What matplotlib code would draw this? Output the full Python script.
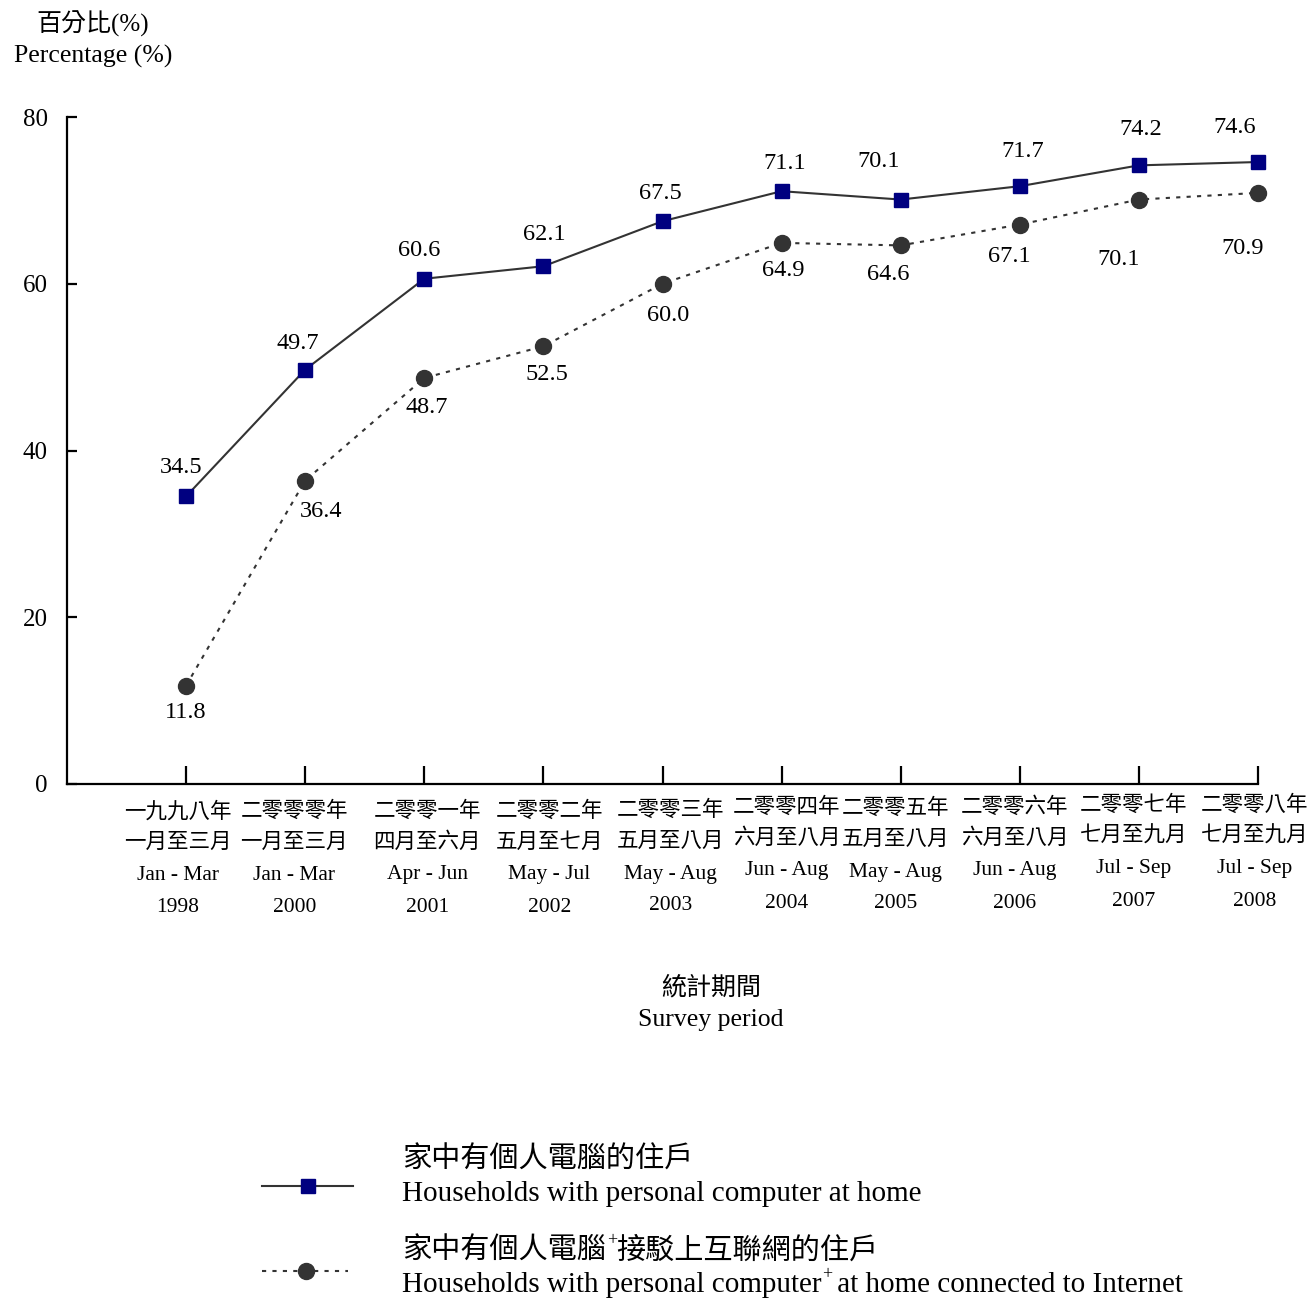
import matplotlib
matplotlib.use("Agg")
import matplotlib.pyplot as plt

plt.rcParams["font.family"] = ["Liberation Serif", "Noto Sans CJK TC"]

# --- data ---
period_zh_year = ["一九九八年", "二零零零年", "二零零一年", "二零零二年", "二零零三年",
                  "二零零四年", "二零零五年", "二零零六年", "二零零七年", "二零零八年"]
period_zh_month = ["一月至三月", "一月至三月", "四月至六月", "五月至七月", "五月至八月",
                   "六月至八月", "五月至八月", "六月至八月", "七月至九月", "七月至九月"]
period_en_month = ["Jan - Mar", "Jan - Mar", "Apr - Jun", "May - Jul", "May - Aug",
                   "Jun - Aug", "May - Aug", "Jun - Aug", "Jul - Sep", "Jul - Sep"]
period_year = ["1998", "2000", "2001", "2002", "2003",
               "2004", "2005", "2006", "2007", "2008"]

pc_at_home = [34.5, 49.7, 60.6, 62.1, 67.5, 71.1, 70.1, 71.7, 74.2, 74.6]
pc_internet = [11.8, 36.4, 48.7, 52.5, 60.0, 64.9, 64.6, 67.1, 70.1, 70.9]

# label nudges in pixels (layout only)
pc_lab_dx = [-5, -7, -5, 1, -2, 3, -22, 3, 2, -23]
pc_lab_dy = [29, 26, 28, 32, 28, 28, 38, 35, 36, 35]
net_lab_dx = [0, 16, 2, 4, 6, 2, -12, -10, -20, -15]
net_lab_dy = [27, 31, 30, 28, 32, 28, 29, 32, 60, 56]
cat_dx = [-8, -11, 3, 6, 8, 5, -5, -5, -5, -3]
cat_dy = [0, 0, 0, 0, -1, -4, -3, -4, -6, -6]

W, H = 1313, 1299
fig = plt.figure(figsize=(W / 100, H / 100), dpi=100)
ax = fig.add_axes([67 / W, 1 - 784 / H, (1258 - 67) / W, (784 - 117) / H])

x = list(range(1, len(pc_at_home) + 1))
line_col = "#333333"

ax.plot(x, pc_at_home, color=line_col, lw=1.5, marker="s", markersize=10,
        markerfacecolor="#000080", markeredgecolor="#000080", zorder=3,
        clip_on=False)
ax.plot(x, pc_internet, color=line_col, lw=1.5, linestyle=(0, (2, 3)),
        marker="o", markersize=11.5, markerfacecolor=line_col,
        markeredgecolor=line_col, zorder=3, clip_on=False)

for i, v in enumerate(pc_at_home):
    ax.annotate(f"{v:.1f}", xy=(x[i], v), xytext=(pc_lab_dx[i], pc_lab_dy[i]),
                textcoords="offset pixels", ha="center", va="center", fontsize=17.5)
for i, v in enumerate(pc_internet):
    ax.annotate(f"{v:.1f}", xy=(x[i], v), xytext=(net_lab_dx[i], -net_lab_dy[i]),
                textcoords="offset pixels", ha="center", va="center", fontsize=17.5)

ax.set_xlim(0, 10)
ax.set_ylim(0, 80)
ax.set_yticks([0, 20, 40, 60, 80])
ax.set_xticks(x)
ax.set_xticklabels([])
ax.spines["top"].set_visible(False)
ax.spines["right"].set_visible(False)
for s in ["left", "bottom"]:
    ax.spines[s].set_linewidth(1.6)
ax.tick_params(axis="y", direction="in", length=7, width=1.6, pad=14, labelsize=18)
ax.tick_params(axis="x", direction="in", length=13, width=1.6)

# category labels, four lines each
line_offsets = [28, 59, 91, 123]
for i in range(len(x)):
    rows = [period_zh_year[i], period_zh_month[i], period_en_month[i], period_year[i]]
    for j, txt in enumerate(rows):
        ax.annotate(txt, xy=(x[i], 0), xycoords=("data", "axes fraction"),
                    xytext=(cat_dx[i], -(line_offsets[j] + cat_dy[i])),
                    textcoords="offset pixels", ha="center", va="center",
                    fontsize=15.5, annotation_clip=False)

# overlay axes in pixel coordinates for titles and legend
ov = fig.add_axes([0, 0, 1, 1], zorder=-1)
ov.set_xlim(0, W)
ov.set_ylim(H, 0)
ov.axis("off")

ov.text(93, 24, "百分比(%)", ha="center", va="center", fontsize=18)
ov.text(93, 56, "Percentage (%)", ha="center", va="center", fontsize=18.5)
ov.text(711, 988, "統計期間", ha="center", va="center", fontsize=18)
ov.text(711, 1020, "Survey period", ha="center", va="center", fontsize=18.5)

# legend
ov.plot([262, 353], [1186, 1186], color=line_col, lw=1.5)
ov.plot([308], [1186], marker="s", markersize=10, color="#000080")
ov.plot([262, 348], [1271, 1271], color=line_col, lw=1.5, linestyle=(0, (2, 3)))
ov.plot([306], [1271], marker="o", markersize=11.5, color=line_col)

leg_fs = 21
ov.text(402, 1160, "家中有個人電腦的住戶", ha="left", va="center", fontsize=leg_fs)
ov.text(402, 1194, "Households with personal computer at home", ha="left",
        va="center", fontsize=leg_fs)

t1 = ov.text(402, 1251, "家中有個人電腦", ha="left", va="center", fontsize=leg_fs)
ov.annotate("+", xy=(1, 0.5), xycoords=t1, xytext=(1, 10), textcoords="offset pixels",
            ha="left", va="center", fontsize=13)
ov.annotate("接駁上互聯網的住戶", xy=(1, 0.5), xycoords=t1, xytext=(10, 0),
            textcoords="offset pixels", ha="left", va="center", fontsize=leg_fs)

t2 = ov.text(402, 1285, "Households with personal computer", ha="left", va="center",
             fontsize=leg_fs)
ov.annotate("+", xy=(1, 0.5), xycoords=t2, xytext=(1, 10), textcoords="offset pixels",
            ha="left", va="center", fontsize=13)
ov.annotate(" at home connected to Internet", xy=(1, 0.5), xycoords=t2, xytext=(9, 0),
            textcoords="offset pixels", ha="left", va="center", fontsize=leg_fs)

fig.savefig("out.png", dpi=100)
